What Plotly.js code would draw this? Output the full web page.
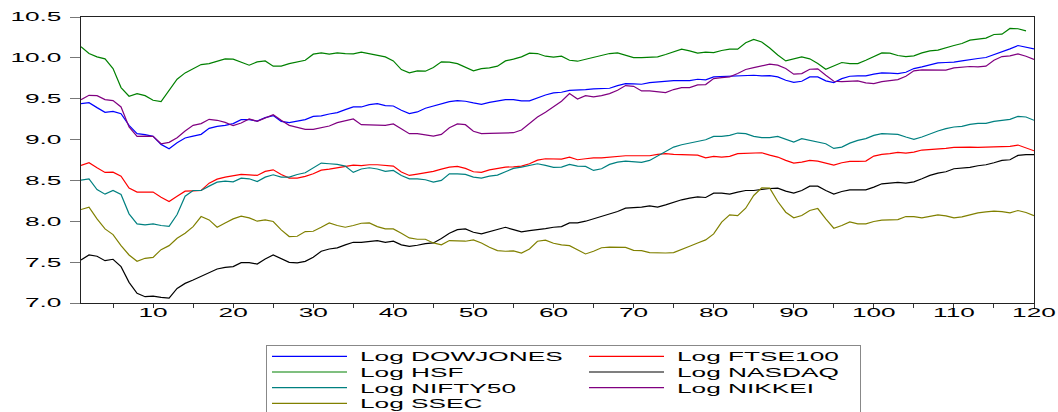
<!DOCTYPE html>
<html>
<head>
<meta charset="utf-8">
<script src="https://cdn.plot.ly/plotly-3.0.1.min.js"></script>
<style>
  html, body { margin: 0; padding: 0; background: #fff; }
  #chart { width: 1058px; height: 412px; }
</style>
</head>
<body>
<div id="chart"></div>
<script>
// ---------------- data (periods 1..120) ----------------
const seriesNames = ["Log DOWJONES", "Log FTSE100", "Log HSF", "Log NASDAQ", "Log NIFTY50", "Log NIKKEI", "Log SSEC"];

const dowjones = [
  9.440, 9.452, 9.391, 9.334, 9.346, 9.317, 9.174, 9.072, 9.060, 9.039,
  8.941, 8.888, 8.962, 9.019, 9.043, 9.064, 9.137, 9.162, 9.174, 9.195,
  9.244, 9.244, 9.227, 9.268, 9.293, 9.223, 9.207, 9.227, 9.244, 9.284,
  9.290, 9.313, 9.330, 9.366, 9.399, 9.399, 9.428, 9.440, 9.415, 9.411,
  9.358, 9.317, 9.338, 9.383, 9.407, 9.440, 9.464, 9.477, 9.469, 9.448,
  9.432, 9.456, 9.473, 9.489, 9.489, 9.473, 9.473, 9.513, 9.546, 9.571,
  9.579, 9.603, 9.612, 9.612, 9.620, 9.624, 9.628, 9.661, 9.685, 9.681,
  9.677, 9.697, 9.706, 9.714, 9.722, 9.722, 9.722, 9.738, 9.730, 9.767,
  9.771, 9.767, 9.771, 9.779, 9.787, 9.779, 9.783, 9.767, 9.726, 9.701,
  9.714, 9.767, 9.767, 9.718, 9.697, 9.746, 9.775, 9.779, 9.779, 9.800,
  9.816, 9.812, 9.808, 9.824, 9.869, 9.890, 9.910, 9.939, 9.943, 9.947,
  9.963, 9.980, 9.992, 10.004, 10.037, 10.078, 10.110, 10.151, 10.135, 10.110
];

const ftse100 = [
  8.683, 8.716, 8.655, 8.598, 8.602, 8.553, 8.406, 8.357, 8.357, 8.357,
  8.295, 8.242, 8.307, 8.369, 8.373, 8.377, 8.467, 8.516, 8.540, 8.553,
  8.573, 8.569, 8.561, 8.610, 8.630, 8.573, 8.528, 8.528, 8.549, 8.581,
  8.626, 8.639, 8.655, 8.680, 8.688, 8.680, 8.692, 8.692, 8.680, 8.675,
  8.602, 8.561, 8.577, 8.594, 8.610, 8.639, 8.663, 8.671, 8.647, 8.606,
  8.598, 8.630, 8.651, 8.663, 8.667, 8.675, 8.704, 8.749, 8.765, 8.765,
  8.761, 8.786, 8.753, 8.765, 8.777, 8.777, 8.786, 8.802, 8.802, 8.802,
  8.802, 8.802, 8.818, 8.827, 8.818, 8.814, 8.814, 8.810, 8.777, 8.794,
  8.786, 8.794, 8.827, 8.831, 8.835, 8.839, 8.810, 8.786, 8.745, 8.712,
  8.725, 8.745, 8.737, 8.712, 8.688, 8.716, 8.733, 8.733, 8.737, 8.798,
  8.818, 8.827, 8.843, 8.835, 8.847, 8.872, 8.876, 8.888, 8.892, 8.904,
  8.908, 8.908, 8.904, 8.908, 8.912, 8.912, 8.917, 8.933, 8.900, 8.863
];

// HSF has no value for period 120
const hsf = [
  10.135, 10.053, 10.012, 9.988, 9.869, 9.636, 9.530, 9.563, 9.538, 9.481,
  9.465, 9.603, 9.738, 9.816, 9.869, 9.918, 9.930, 9.963, 9.988, 9.984,
  9.951, 9.910, 9.951, 9.963, 9.898, 9.898, 9.930, 9.947, 9.971, 10.045,
  10.061, 10.045, 10.061, 10.053, 10.049, 10.069, 10.053, 10.033, 10.012, 9.963,
  9.857, 9.816, 9.841, 9.837, 9.881, 9.951, 9.947, 9.930, 9.890, 9.841,
  9.869, 9.877, 9.898, 9.963, 9.984, 10.012, 10.057, 10.053, 10.020, 10.008,
  10.020, 9.971, 9.959, 9.984, 10.004, 10.037, 10.053, 10.061, 10.033, 10.004,
  10.004, 10.008, 10.012, 10.041, 10.078, 10.106, 10.086, 10.057, 10.069, 10.065,
  10.090, 10.106, 10.106, 10.184, 10.225, 10.195, 10.120, 10.035, 9.963, 9.990,
  10.012, 9.988, 9.930, 9.861, 9.902, 9.943, 9.930, 9.930, 9.971, 10.020,
  10.061, 10.057, 10.029, 10.016, 10.025, 10.061, 10.086, 10.094, 10.127, 10.151,
  10.176, 10.217, 10.229, 10.241, 10.286, 10.290, 10.360, 10.356, 10.331
];

const nasdaq = [
  7.527, 7.588, 7.572, 7.518, 7.535, 7.445, 7.253, 7.118, 7.077, 7.085,
  7.069, 7.061, 7.179, 7.240, 7.281, 7.326, 7.379, 7.416, 7.437, 7.445,
  7.494, 7.494, 7.477, 7.539, 7.588, 7.539, 7.498, 7.490, 7.510, 7.560,
  7.633, 7.661, 7.674, 7.711, 7.743, 7.743, 7.756, 7.764, 7.743, 7.756,
  7.711, 7.694, 7.707, 7.727, 7.735, 7.788, 7.854, 7.898, 7.907, 7.866,
  7.845, 7.874, 7.907, 7.927, 7.898, 7.870, 7.886, 7.903, 7.911, 7.927,
  7.935, 7.980, 7.980, 8.001, 8.029, 8.058, 8.083, 8.120, 8.160, 8.164,
  8.173, 8.189, 8.173, 8.201, 8.234, 8.263, 8.283, 8.299, 8.291, 8.344,
  8.344, 8.332, 8.357, 8.377, 8.377, 8.393, 8.401, 8.406, 8.369, 8.344,
  8.377, 8.430, 8.430, 8.377, 8.332, 8.365, 8.385, 8.385, 8.385, 8.418,
  8.459, 8.467, 8.475, 8.467, 8.483, 8.520, 8.561, 8.590, 8.606, 8.643,
  8.651, 8.659, 8.680, 8.692, 8.716, 8.745, 8.753, 8.806, 8.815, 8.815
];

const nifty50 = [
  8.504, 8.520, 8.389, 8.332, 8.377, 8.328, 8.091, 7.968, 7.956, 7.968,
  7.948, 7.939, 8.083, 8.307, 8.377, 8.377, 8.430, 8.479, 8.491, 8.483,
  8.528, 8.520, 8.487, 8.540, 8.569, 8.540, 8.540, 8.573, 8.594, 8.651,
  8.712, 8.704, 8.696, 8.675, 8.598, 8.640, 8.655, 8.640, 8.610, 8.622,
  8.561, 8.520, 8.520, 8.508, 8.479, 8.500, 8.581, 8.581, 8.573, 8.540,
  8.528, 8.553, 8.565, 8.606, 8.647, 8.663, 8.688, 8.704, 8.684, 8.659,
  8.663, 8.696, 8.675, 8.671, 8.622, 8.643, 8.696, 8.724, 8.737, 8.733,
  8.720, 8.745, 8.802, 8.851, 8.908, 8.937, 8.957, 8.982, 8.998, 9.039,
  9.039, 9.051, 9.080, 9.072, 9.039, 9.023, 9.023, 9.039, 9.007, 8.970,
  9.011, 8.990, 8.970, 8.949, 8.892, 8.908, 8.957, 8.990, 9.011, 9.051,
  9.072, 9.072, 9.064, 9.031, 9.002, 9.031, 9.072, 9.105, 9.133, 9.154,
  9.162, 9.186, 9.199, 9.199, 9.223, 9.240, 9.248, 9.284, 9.276, 9.236
];

const nikkei = [
  9.489, 9.542, 9.538, 9.489, 9.477, 9.399, 9.154, 9.039, 9.043, 9.039,
  8.949, 8.966, 9.023, 9.105, 9.174, 9.195, 9.248, 9.236, 9.211, 9.170,
  9.203, 9.252, 9.223, 9.268, 9.305, 9.236, 9.174, 9.150, 9.125, 9.125,
  9.145, 9.166, 9.207, 9.231, 9.252, 9.182, 9.178, 9.178, 9.174, 9.191,
  9.133, 9.072, 9.072, 9.056, 9.043, 9.064, 9.145, 9.191, 9.182, 9.101,
  9.072, 9.076, 9.080, 9.084, 9.084, 9.117, 9.195, 9.276, 9.334, 9.399,
  9.470, 9.563, 9.497, 9.538, 9.522, 9.538, 9.563, 9.603, 9.661, 9.652,
  9.595, 9.595, 9.583, 9.575, 9.612, 9.636, 9.636, 9.669, 9.673, 9.747,
  9.759, 9.767, 9.808, 9.857, 9.881, 9.902, 9.922, 9.910, 9.869, 9.800,
  9.808, 9.861, 9.865, 9.787, 9.714, 9.710, 9.714, 9.718, 9.693, 9.685,
  9.710, 9.718, 9.734, 9.775, 9.841, 9.853, 9.853, 9.853, 9.849, 9.877,
  9.890, 9.894, 9.890, 9.898, 9.971, 10.016, 10.025, 10.049, 10.020, 9.980
];

const ssec = [
  8.144, 8.173, 8.029, 7.907, 7.837, 7.702, 7.588, 7.510, 7.547, 7.559,
  7.653, 7.702, 7.792, 7.854, 7.935, 8.058, 8.017, 7.927, 7.980, 8.029,
  8.062, 8.042, 8.001, 8.017, 7.997, 7.895, 7.813, 7.817, 7.874, 7.878,
  7.927, 7.980, 7.948, 7.927, 7.948, 7.976, 7.980, 7.935, 7.907, 7.907,
  7.854, 7.796, 7.780, 7.780, 7.735, 7.711, 7.764, 7.764, 7.756, 7.772,
  7.735, 7.682, 7.641, 7.633, 7.637, 7.612, 7.661, 7.756, 7.770, 7.731,
  7.711, 7.702, 7.649, 7.600, 7.633, 7.676, 7.684, 7.684, 7.680, 7.645,
  7.640, 7.617, 7.612, 7.612, 7.617, 7.653, 7.694, 7.735, 7.772, 7.845,
  7.989, 8.079, 8.070, 8.160, 8.316, 8.410, 8.406, 8.242, 8.111, 8.042,
  8.070, 8.132, 8.156, 8.029, 7.915, 7.948, 7.993, 7.968, 7.968, 7.997,
  8.013, 8.017, 8.021, 8.058, 8.058, 8.042, 8.062, 8.079, 8.066, 8.042,
  8.054, 8.083, 8.103, 8.115, 8.124, 8.119, 8.103, 8.132, 8.107, 8.070
];

const seriesValues = [dowjones, ftse100, hsf, nasdaq, nifty50, nikkei, ssec];
const seriesColors = ["#0000ff", "#ff0000", "#008000", "#000000", "#008080", "#800080", "#808000"];
// first legend column / second legend column
const seriesLegend = ["legend", "legend2", "legend", "legend2", "legend", "legend2", "legend"];

const yTickValues = [7.0, 7.5, 8.0, 8.5, 9.0, 9.5, 10.0, 10.5];

// ---------------- chart ----------------
const FONT = "Liberation Sans, Arial, Helvetica, sans-serif";

const traces = seriesNames.map((name, k) => ({
  type: "scatter",
  mode: "lines",
  name: name,
  x0: 1,
  dx: 1,
  y: seriesValues[k],
  line: { color: seriesColors[k], width: 1.2 },
  legend: seriesLegend[k],
  hoverinfo: "skip"
}));

const axisLine = "#222";

const layout = {
  width: 1058,
  height: 412,
  margin: { l: 81, r: 24, t: 17, b: 109, autoexpand: false },
  paper_bgcolor: "#ffffff",
  plot_bgcolor: "#ffffff",
  font: { family: FONT, size: 12.5, color: "#000" },
  showlegend: true,
  xaxis: {
    range: [1, 120],
    tick0: 0,
    dtick: 10,
    ticks: "outside",
    ticklen: 4,
    tickwidth: 1,
    tickcolor: "#333",
    ticklabelstandoff: -6,
    minor: { tick0: 0, dtick: 5, ticks: "outside", ticklen: 4, tickwidth: 1, tickcolor: "#333", showgrid: false },
    showline: true,
    linecolor: axisLine,
    linewidth: 1,
    mirror: true,
    showgrid: false,
    zeroline: false,
    automargin: false,
    tickfont: { family: FONT, size: 12.5, color: "#000" },
    fixedrange: true
  },
  yaxis: {
    range: [7.0, 10.5],
    tickmode: "array",
    tickvals: yTickValues,
    ticktext: yTickValues.map(v => v.toFixed(1)),
    ticks: "outside",
    ticklen: 10,
    tickwidth: 1,
    tickcolor: "#777",
    ticklabelstandoff: 6,
    showline: true,
    linecolor: axisLine,
    linewidth: 1,
    mirror: true,
    showgrid: false,
    zeroline: false,
    automargin: false,
    tickfont: { family: FONT, size: 12.5, color: "#000" },
    fixedrange: true
  },
  legend: {
    x: (266 - 81) / 953,
    xanchor: "left",
    y: (302.7 - 345) / 286,
    yanchor: "top",
    orientation: "h",
    bordercolor: "#888",
    borderwidth: 1,
    bgcolor: "rgba(255,255,255,0)",
    itemwidth: 75,
    entrywidth: 503,
    entrywidthmode: "pixels",
    traceorder: "normal",
    font: { family: FONT, size: 12.5, color: "#000" }
  },
  legend2: {
    x: (584 - 81) / 953,
    xanchor: "left",
    y: (302.7 - 345) / 286,
    yanchor: "top",
    orientation: "h",
    borderwidth: 0,
    bgcolor: "rgba(255,255,255,0)",
    itemwidth: 75,
    entrywidth: 420,
    entrywidthmode: "pixels",
    traceorder: "normal",
    font: { family: FONT, size: 12.5, color: "#000" }
  }
};

// the reference artwork has horizontally stretched lettering
const STRETCH = 2.1;
const LEGEND_TEXT_SHIFT = 8;
const ROW_OFFSETS = [11, 26.7, 42.4, 58.1];

function stretchText(el, factor, shift) {
  if (!el.hasAttribute("data-orig-transform")) {
    el.setAttribute("data-orig-transform", el.getAttribute("transform") || "");
  }
  const orig = el.getAttribute("data-orig-transform");
  el.setAttribute("transform", orig);
  const anchor = el.getAttribute("text-anchor") || "start";
  const bb = el.getBBox();
  let ax = bb.x;
  if (anchor === "end") ax = bb.x + bb.width;
  else if (anchor === "middle") ax = bb.x + bb.width / 2;
  el.setAttribute("transform", (orig ? orig + " " : "") +
    "translate(" + (ax + shift) + ",0) scale(" + factor + ",1) translate(" + (-ax) + ",0)");
}

function tidyLegend(cls) {
  const items = document.querySelectorAll("g." + cls + " g.traces");
  items.forEach((el, j) => {
    const t = el.getAttribute("transform") || "";
    const m = /translate\(\s*([-\d.e]+)[ ,]+([-\d.e]+)\s*\)/.exec(t);
    const x = m ? m[1] : 0;
    if (j < ROW_OFFSETS.length) el.setAttribute("transform", "translate(" + x + "," + ROW_OFFSETS[j] + ")");
  });
}

function finish() {
  document.querySelectorAll("g.xtick text, g.ytick text").forEach(el => stretchText(el, STRETCH, 0));
  document.querySelectorAll("g.traces text").forEach(el => stretchText(el, STRETCH, LEGEND_TEXT_SHIFT));
  tidyLegend("legend");
  tidyLegend("legend2");
}

const gd = document.getElementById("chart");
Plotly.newPlot(gd, traces, layout, { staticPlot: true, displayModeBar: false, responsive: false }).then(() => {
  finish();
  gd.on("plotly_afterplot", finish);
});
</script>
</body>
</html>
